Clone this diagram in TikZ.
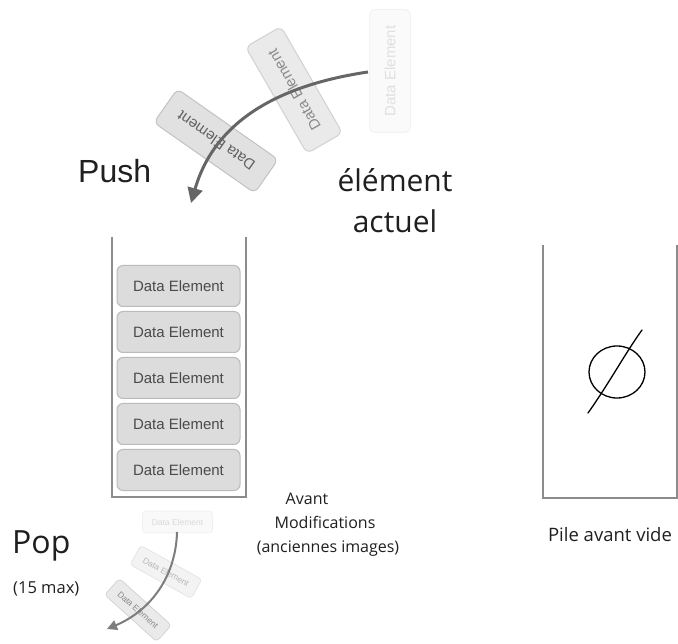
\documentclass[tikz,border=0pt]{standalone}
\usepackage{fontspec}
\setmainfont{Open Sans}
\newfontfamily\helv{Liberation Sans}
\usetikzlibrary{arrows.meta}

\definecolor{boxfill}{HTML}{DCDCDC}
\definecolor{boxline}{HTML}{BBBBBB}
\definecolor{boxtext}{HTML}{4A4A4A}
\definecolor{wall}{HTML}{8C8C8C}
\definecolor{arrowgray}{HTML}{666666}

\begin{document}
\begin{tikzpicture}[x=1pt,y=-1pt,
  dataelem/.style={draw=boxline, fill=boxfill, rounded corners=6pt, line width=1pt,
    minimum width=123pt, minimum height=41pt, inner sep=0pt,
    font=\helv\fontsize{15}{15}\selectfont, text=boxtext},
  smallelem/.style={dataelem, minimum width=70pt, minimum height=22pt,
    rounded corners=3.5pt, line width=0.7pt, font=\helv\fontsize{8.5}{9}\selectfont},
  wallline/.style={draw=wall, line width=1.8pt},
  lbl/.style={inner sep=0pt, text=black!88},
  pusharrow/.style={draw=arrowgray, line width=3pt,
    -{Triangle[length=15pt,width=15pt,fill=arrowgray]}},
  poparrow/.style={draw=arrowgray!85, line width=2pt,
    -{Triangle[length=10pt,width=10pt,fill=arrowgray!85]}}
]
\useasboundingbox (0,0) rectangle (678,644);

% ---- stack with elements ----
\draw[wallline] (112,237) -- (112,497) -- (246,497) -- (246,237);
\node[dataelem] (d1) at (178.5,286) {Data Element};
\node[dataelem] (d2) at (178.5,332) {Data Element};
\node[dataelem] (d3) at (178.5,378) {Data Element};
\node[dataelem] (d4) at (178.5,424) {Data Element};
\node[dataelem] (d5) at (178.5,470) {Data Element};

% ---- push: element falling into the stack ----
\node[dataelem, rotate=90,  opacity=0.15] (p1) at (390,71)  {Data Element};
\node[dataelem, rotate=120, opacity=0.6]  (p2) at (294,90)  {Data Element};
\node[dataelem, rotate=145, opacity=0.85] (p3) at (216,141) {Data Element};
\coordinate (pushstart) at (368,72);
\coordinate (pushend) at (191,203);
\draw[pusharrow] (pushstart) .. controls (280,85) and (215,120) .. (pushend);

% ---- pop: element leaving the stack ----
\node[smallelem, opacity=0.18]             (q1) at (177.5,522) {Data Element};
\node[smallelem, rotate=-29, opacity=0.35] (q2) at (166,572)   {Data Element};
\node[smallelem, rotate=-42, opacity=0.6]  (q3) at (138,610)   {Data Element};
\coordinate (popstart) at (177,532);
\coordinate (popend) at (107,629);
\draw[poparrow] (popstart) .. controls (176,575) and (152,610) .. (popend);

% ---- labels ----
\node[lbl, anchor=base west, font=\helv\fontsize{32}{32}\selectfont] (push) at (78,183) {Push};
\node[lbl, anchor=base, font=\fontsize{30}{30}\selectfont] (cur1) at (395,192) {élément};
\node[lbl, anchor=base, font=\fontsize{30}{30}\selectfont] (cur2) at (395,233) {actuel};
\node[lbl, anchor=base west, font=\fontsize{32}{32}\selectfont] (pop) at (12,553) {Pop};
\node[lbl, anchor=base west, font=\fontsize{16.5}{17}\selectfont] (popmax) at (13,593) {(15 max)};
\node[lbl, anchor=base, font=\fontsize{16}{16}\selectfont] (old1) at (307,504) {Avant};
\node[lbl, anchor=base, font=\fontsize{16}{16}\selectfont] (old2) at (325,528) {Modifications};
\node[lbl, anchor=base, font=\fontsize{16}{16}\selectfont] (old3) at (328,552) {(anciennes images)};

% ---- empty stack ----
\draw[wallline] (543,245) -- (543,498) -- (677,498) -- (677,245);
\draw[black, line width=1.3pt] (617,372) ellipse [x radius=28, y radius=26];
\draw[black, line width=1.3pt, line cap=round] (588,413) .. controls (608,385) and (626,352) .. (642,330);
\node[lbl, anchor=base, font=\fontsize{18.5}{18}\selectfont] (emptylbl) at (610,541) {Pile avant vide};
\end{tikzpicture}
\end{document}
